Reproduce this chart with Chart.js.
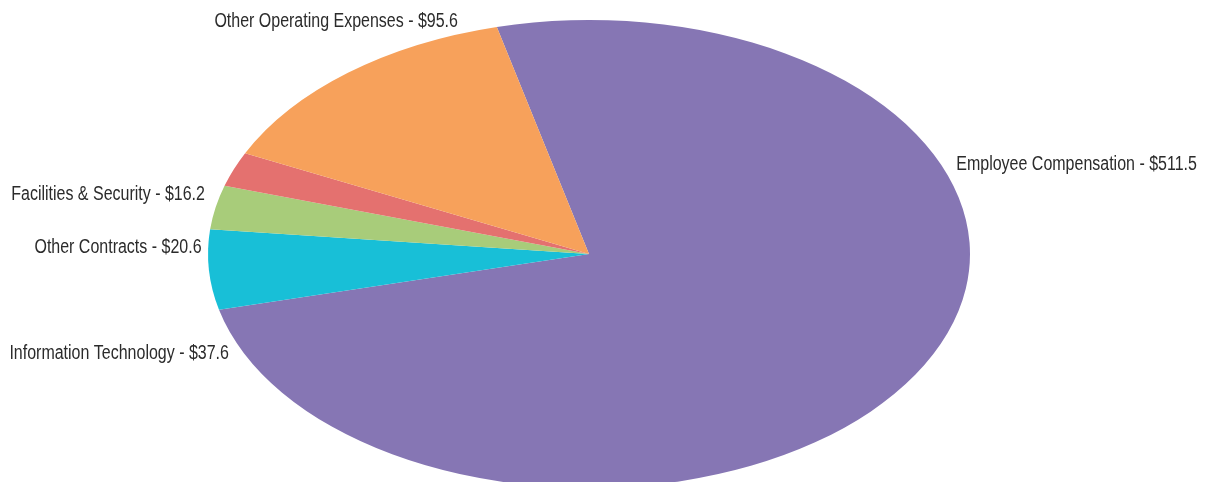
<!DOCTYPE html>
<html>
<head>
<meta charset="utf-8">
<script src="https://cdn.jsdelivr.net/npm/chart.js@4.4.1/dist/chart.umd.min.js"></script>
<style>
  html, body { margin: 0; padding: 0; background: #ffffff; }
  canvas { display: block; }
</style>
</head>
<body>
<canvas id="canvas" width="1206" height="482"></canvas>
<script>
// data ($ millions)
var labels = ['Employee Compensation', 'Information Technology', 'Other Contracts', 'Facilities & Security', 'Other Operating Expenses'];
var values = [511.5, 37.6, 20.6, 16.2, 95.6];
var colors = ['#8676b4', '#18bfd7', '#a8cc7a', '#e4716f', '#f7a15b'];

// ellipse the pie is stretched into
var cx = 589, cy = 254, rx = 381, ry = 234;

// where each label sits, in units of the ellipse radii from its centre
var labelPos = [
  { u: 0.964, v: -0.360, align: 'left' },
  { u: -0.945, v: 0.450, align: 'right' },
  { u: -1.017, v: -0.004, align: 'right' },
  { u: -1.008, v: -0.231, align: 'right' },
  { u: -0.344, v: -0.968, align: 'right' }
];

// the original uses a condensed face; squeeze Liberation Sans sideways
var squeeze = 0.82;

var ellipse = {
  id: 'ellipse',
  beforeDatasetsDraw(chart) {
    const a = chart.getDatasetMeta(0).data[0];
    const ctx = chart.ctx;
    ctx.save();
    ctx.translate(cx, cy);
    ctx.scale(rx / a.outerRadius, ry / a.outerRadius);
    ctx.translate(-a.x, -a.y);
  },
  afterDatasetsDraw(chart) {
    chart.ctx.restore();
  },
  afterDraw(chart) {
    const ctx = chart.ctx;
    ctx.font = '19.5px "Liberation Sans", Arial, sans-serif';
    ctx.fillStyle = '#2b2b2b';
    ctx.textBaseline = 'alphabetic';
    for (let i = 0; i < labels.length; i++) {
      const p = labelPos[i];
      ctx.save();
      ctx.translate(cx + p.u * rx, cy + p.v * ry);
      ctx.scale(squeeze, 1);
      ctx.textAlign = p.align;
      ctx.fillText(labels[i] + ' - $' + values[i].toFixed(1), 0, 0);
      ctx.restore();
    }
  }
};

const ctx = document.getElementById('canvas');

new Chart(ctx, {
  type: 'pie',
  data: {
    labels: labels,
    datasets: [{
      data: values,
      backgroundColor: colors,
      borderWidth: 0,
      radius: 100
    }]
  },
  options: {
    responsive: false,
    animation: false,
    rotation: -14,
    layout: { padding: 0 },
    plugins: {
      legend: { display: false },
      tooltip: { enabled: false }
    }
  },
  plugins: [ellipse]
});
</script>
</body>
</html>
